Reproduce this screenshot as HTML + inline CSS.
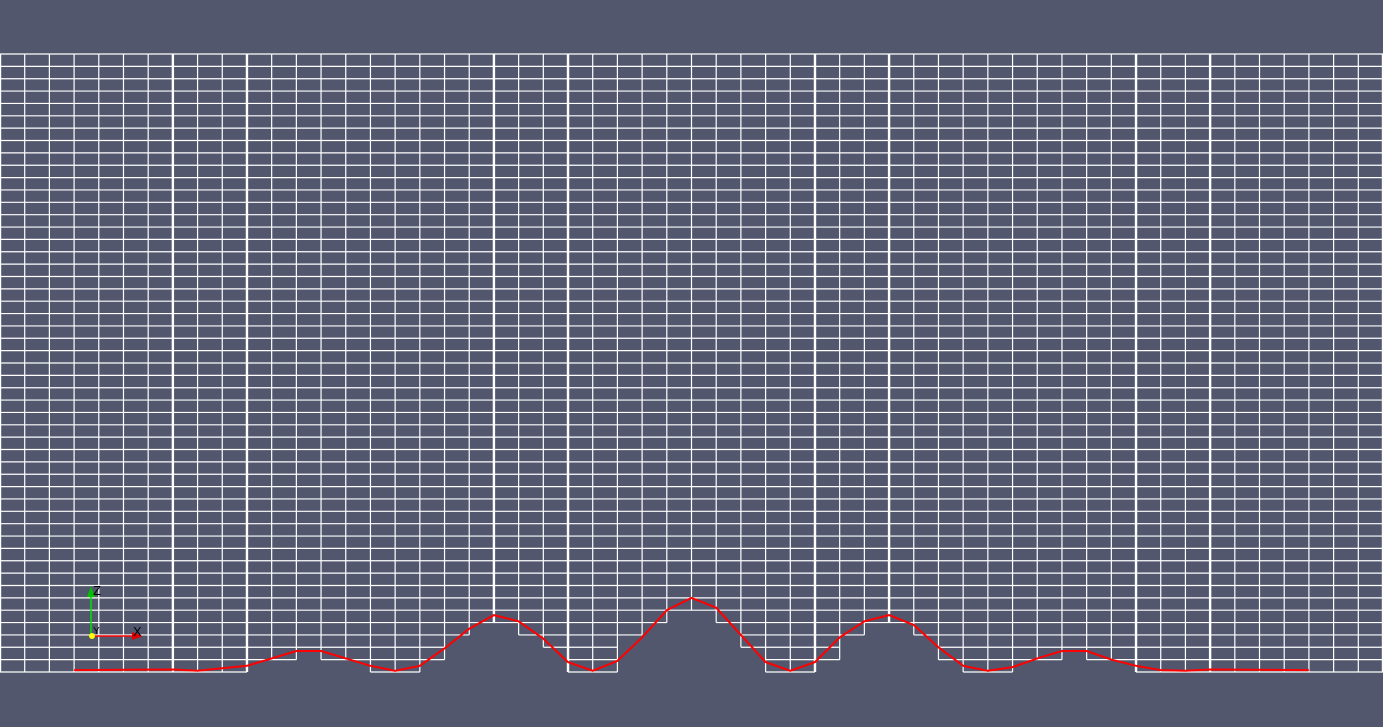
<!DOCTYPE html>
<html><head><meta charset="utf-8"><style>
html,body{margin:0;padding:0;background:#52576e;overflow:hidden}
svg{display:block}
</style></head><body>
<svg id="chart" width="1383" height="727" viewBox="0 0 1383 727" xmlns="http://www.w3.org/2000/svg">
<rect x="0" y="0" width="1383" height="727" fill="#52576e"/>
<g id="grid"></g>
<g id="curve"></g>
<g>
  <line x1="91" y1="635" x2="91" y2="592" stroke="#00e000" stroke-width="1.5"/>
  <polygon points="87,597 95,597 91,586" fill="#00c000"/>
  <line x1="91" y1="636" x2="136" y2="636" stroke="#ff0000" stroke-width="1.5"/>
  <polygon points="132,632 132,640 143,636" fill="#e00000"/>
  <circle cx="92" cy="636" r="3" fill="#ffff00"/>
  <text x="93" y="595" font-family="Liberation Sans, sans-serif" font-size="13" fill="#000">Z</text>
  <text x="133" y="636" font-family="Liberation Sans, sans-serif" font-size="13" fill="#000">X</text>
  <text x="93" y="634" font-family="Liberation Sans, sans-serif" font-size="10" fill="#000">Y</text>
</g>
</svg>
<script>
// rows removed from bottom per column (56 columns)
const colBottom = [0,0,0,0,0,0,0,0,0,0, 1,1,2,1,1,0,0,1,3,4, 4,3,2,0,0,3,4,5,5,4, 2,0,0,1,3,4,4,3,1,0, 0,1,1,2,1,1,0,0,0,0, 0,0,0,0,0,0];
// profile curve: x in column units, height in row units (0 = bottom 672)
const curveX = [3,7,8,10,12,13,15,16,17,18,19,20,21,22,23,24,25,26,27,28,29,30,31,32,33,34,35,36,37,38,39,40,41,42,43,44,45,46,47,48,49,53];
const curveH = [0.15,0.2,0.1,0.5,1.7,1.7,0.5,0.1,0.5,1.9,3.5,4.6,4.1,2.7,0.8,0.1,0.9,2.8,5.0,6.0,5.2,3.0,0.8,0.1,0.8,2.8,4.1,4.6,3.8,2.0,0.5,0.1,0.4,1.1,1.7,1.7,1.0,0.5,0.15,0.1,0.2,0.15];
const thickCols = [7,10,20,23,33,36,46,49];

const NC = 56, NR = 50, gridTop = 54, gridBot = 672, W = 1383;
const cw = W / NC, rh = (gridBot - gridTop) / NR;
const xS = c => c * cw;
const yS = r => gridBot - r * rh;
const NS = 'http://www.w3.org/2000/svg';
const gridG = document.getElementById('grid');
function ln(x1,y1,x2,y2,w,name){
  const l = document.createElementNS(NS,'line');
  l.setAttribute('x1',x1);l.setAttribute('y1',y1);l.setAttribute('x2',x2);l.setAttribute('y2',y2);
  l.setAttribute('stroke','#ffffff');l.setAttribute('stroke-width',w);
  
  
  gridG.appendChild(l);
}
for (let c = 0; c < NC; c++) {
  for (let r = NR; r >= colBottom[c]; r--) {
    ln(xS(c), yS(r), xS(c+1), yS(r), 1.2, 'grid-row-line');
  }
}
for (let b = 0; b <= NC; b++) {
  const l = b > 0 ? colBottom[b-1] : 99;
  const rr = b < NC ? colBottom[b] : 99;
  const lowest = Math.min(l, rr);
  const x = Math.min(Math.max(xS(b), 0.6), W - 0.6);
  ln(x, yS(NR), x, yS(lowest), thickCols.includes(b) ? 2.4 : 1.2, 'grid-column-line');
}
const pts = curveX.map((c,i) => xS(c).toFixed(1) + ',' + yS(curveH[i]).toFixed(1)).join(' ');
const pl = document.createElementNS(NS,'polyline');
pl.setAttribute('points', pts);
pl.setAttribute('fill','none');pl.setAttribute('stroke','#ff0000');pl.setAttribute('stroke-width','2');


document.getElementById('curve').appendChild(pl);
</script>
</body></html>
